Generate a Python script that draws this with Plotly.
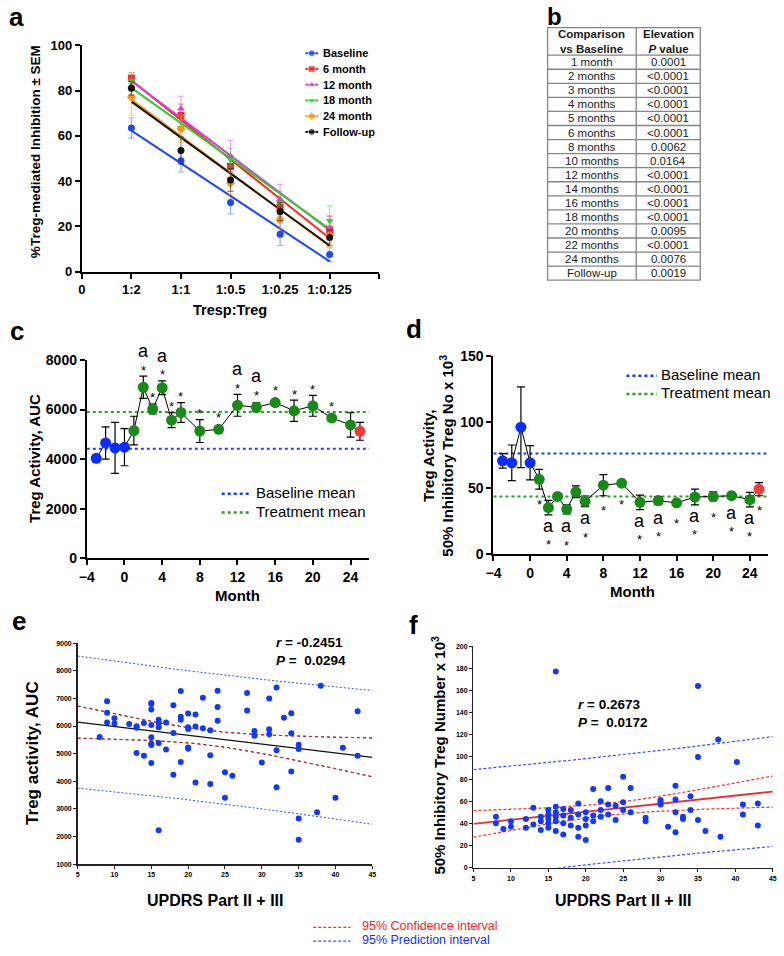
import numpy as np
import plotly.graph_objects as go

W, H = 784, 956
FONT = "Liberation Sans, Arial, sans-serif"


def fx(p):
    return p / W


def fy(p):
    return 1 - p / H


# ---------------- Panel a data ----------------
ratio_labels = ["1:2", "1:1", "1:0.5", "1:0.25", "1:0.125"]
ratio_pos = [1, 2, 3, 4, 5]
a_names = ["Baseline", "6 month", "12 month", "18 month", "24 month", "Follow-up"]
a_baseline = [63.5, 49.0, 30.5, 16.5, 7.5]
a_baseline_sem = [4.5, 5.0, 5.0, 5.0, 3.0]
a_m6 = [85.5, 69.0, 46.5, 28.5, 18.5]
a_m6_sem = [2.5, 5.0, 5.0, 4.0, 6.0]
a_m12 = [82.0, 72.0, 51.0, 32.0, 19.5]
a_m12_sem = [4.0, 5.5, 7.0, 6.5, 5.0]
a_m18 = [84.0, 63.5, 49.5, 30.5, 22.5]
a_m18_sem = [3.0, 5.0, 5.0, 5.0, 6.5]
a_m24 = [77.0, 63.0, 39.0, 23.0, 16.0]
a_m24_sem = [8.0, 6.0, 5.0, 4.0, 5.0]
a_fu = [81.0, 53.5, 40.5, 26.5, 15.0]
a_fu_sem = [3.0, 6.0, 5.0, 4.0, 3.5]

# ---------------- Panel b data ----------------
b_header = ["<b>Comparison<br>vs Baseline</b>", "<b>Elevation<br><i>P</i> value</b>"]
b_comparison = ["1 month", "2 months", "3 months", "4 months", "5 months", "6 months",
                "8 months", "10 months", "12 months", "14 months", "16 months",
                "18 months", "20 months", "22 months", "24 months", "Follow-up"]
b_pvalue = ["0.0001", "<0.0001", "<0.0001", "<0.0001", "<0.0001", "<0.0001",
            "0.0062", "0.0164", "<0.0001", "<0.0001", "<0.0001", "<0.0001",
            "0.0095", "<0.0001", "0.0076", "0.0019"]

# ---------------- Panel c / d data ----------------
months = [-3, -2, -1, 0, 1, 2, 3, 4, 5, 6, 8, 10, 12, 14, 16, 18, 20, 22, 24, 25]
phase = ["B"] * 4 + ["T"] * 15 + ["F"]
c_auc = [4030, 4650, 4450, 4480, 5150, 6900, 6020, 6880, 5570, 5880, 5130, 5200,
         6170, 6090, 6280, 5950, 6150, 5660, 5380, 5120]
c_sem = [130, 650, 1030, 750, 580, 450, 200, 280, 300, 400, 460, 40,
         440, 180, 60, 430, 420, 120, 490, 360]
c_star_months = [2, 3, 4, 5, 6, 8, 10, 12, 14, 16, 18, 20, 22]
c_a_months = [2, 4, 12, 14]
c_baseline_mean = 4420
c_treatment_mean = 5900

d_val = [70.5, 69.0, 96.0, 69.0, 56.5, 35.0, 43.5, 33.8, 47.0, 39.8, 52.0, 53.5,
         39.0, 40.3, 38.6, 43.0, 43.5, 44.0, 41.0, 49.0]
d_sem = [5.5, 13.5, 30.7, 13.0, 7.5, 5.5, 1.0, 3.5, 4.5, 4.0, 8.0, 1.2,
         5.5, 3.0, 1.0, 6.0, 3.5, 1.0, 5.5, 5.0]
d_star_months = [1, 2, 4, 6, 8, 10, 12, 14, 16, 18, 20, 22, 24, 25]
d_a_months = [2, 4, 6, 12, 14, 18, 22, 24]
d_baseline_mean = 76
d_treatment_mean = 43.5
mean_names = ["Baseline mean", "Treatment mean"]

# ---------------- Panel e data ----------------
e_updrs = [8, 9, 9, 9, 10, 10, 12, 13, 13, 13, 14, 14, 15, 15, 15, 15, 15, 15, 15, 15,
           16, 16, 16, 16, 16, 17, 17, 18, 18, 18, 19, 19, 19, 19, 20, 20, 20, 20, 20,
           21, 21, 21, 22, 22, 23, 23, 23, 24, 24, 24, 25, 25, 26, 28, 28, 29, 29, 30,
           31, 31, 31, 32, 32, 32, 33, 34, 34, 34, 35, 35, 35, 35, 37.5, 38, 40, 41, 43, 43]
e_auc = [5600, 6900, 6480, 6130, 6280, 6090, 6070, 5990, 5940, 5020, 4920, 6110,
         6830, 6800, 6600, 6040, 5590, 5360, 5310, 4660,
         6230, 6120, 5960, 5390, 2230, 6130, 5150, 6750, 5750, 4240,
         7270, 6340, 6230, 4700, 6450, 5960, 5890, 5220, 5180,
         6420, 5980, 3960, 7020, 5920, 5850, 4940, 3900, 7280, 6690, 6190,
         4330, 3400, 4200, 7200, 6560, 5820, 5650, 4680,
         7000, 5880, 5700, 7400, 5120, 3780, 6300, 6460, 5740, 4350,
         5320, 5170, 2650, 1880, 2880, 7460, 3400, 5210, 6540, 4920]

# ---------------- Panel f data ----------------
f_updrs = [8, 8, 9, 10, 10, 12, 12,
           13, 13, 14, 14, 14,
           15, 15, 15, 15, 15,
           16, 16, 16, 16, 16, 16,
           17, 17, 17, 17,
           18, 18, 18,
           19, 19, 19, 19,
           20, 20, 20, 20,
           21, 21, 21,
           22, 22, 22,
           23, 23, 23,
           24, 24,
           25, 25, 25,
           26, 26,
           28, 28,
           30, 30, 30,
           31,
           32, 32, 32, 32,
           33, 33,
           34, 34,
           35, 35, 35,
           36, 37.7, 38, 40.2,
           41, 41, 43, 43]
f_treg = [46, 40, 35, 42, 37, 44, 36,
          39, 54, 46, 42, 34,
          52, 48, 44, 40, 36,
          177, 55, 50, 46, 42, 33,
          53, 47, 40, 30,
          52, 45, 38,
          58, 48, 36, 28,
          50, 44, 38, 25,
          71, 47, 42,
          60, 52, 46,
          72, 57, 48,
          56, 43,
          82, 59, 52,
          72, 50,
          45, 42,
          61, 59.5, 57,
          37,
          74, 61.5, 50, 32,
          46, 44,
          64.5, 52,
          164, 100, 43,
          33, 115.7, 28, 95.5,
          57, 48, 58, 38]
band_names = ["95% Confidence interval", "95% Prediction interval"]

# ---------------- colours ----------------
a_colors = ["#1f45ff", "#ff2424", "#d23fd2", "#2ad12a", "#ff9412", "#111111"]
a_symbols = ["circle", "square", "triangle-up", "triangle-down", "diamond", "circle"]
PH_COL = {"B": "#0a2cff", "T": "#178a17", "F": "#f23a3a"}
MEAN_COL = ["#1a3cff", "#1ea61e"]
BAND_COL = ["#ff2a2a", "#3a4cff"]
BAND_TXT = ["#ff2020", "#1a2cff"]


def rgba(hexc, a):
    h = hexc.lstrip("#")
    return "rgba(%d,%d,%d,%.2f)" % (int(h[0:2], 16), int(h[2:4], 16), int(h[4:6], 16), a)


fig = go.Figure()
annotations = []


def pann(text, x, y, size, bold=False, angle=0, color="black", xanchor="center", align="center"):
    return dict(text=text, x=fx(x), y=fy(y), xref="paper", yref="paper", showarrow=False,
                textangle=angle, xanchor=xanchor, yanchor="middle", align=align,
                font=dict(family=FONT, size=size, color=color, weight=("bold" if bold else "normal")))


# ---------------- Panel a traces ----------------
a_vals = [a_baseline, a_m6, a_m12, a_m18, a_m24, a_fu]
a_sems = [a_baseline_sem, a_m6_sem, a_m12_sem, a_m18_sem, a_m24_sem, a_fu_sem]
for name, v, s, col, sym in zip(a_names, a_vals, a_sems, a_colors, a_symbols):
    slope, icpt = np.polyfit(ratio_pos, v, 1)
    xf = [ratio_pos[0], ratio_pos[-1]]
    yf = [icpt + slope * ratio_pos[0], icpt + slope * ratio_pos[-1]]
    fig.add_trace(go.Scatter(x=xf, y=yf, mode="lines", name=name,
                             line=dict(color=col, width=2),
                             xaxis="x", yaxis="y", showlegend=False))
for name, v, s, col, sym in zip(a_names, a_vals, a_sems, a_colors, a_symbols):
    fig.add_trace(go.Scatter(x=ratio_pos, y=v, mode="markers", name=name,
                             marker=dict(color=col, symbol=sym, size=7),
                             error_y=dict(type="data", array=s, color=rgba(col, 0.45),
                                          thickness=1.2, width=3),
                             xaxis="x", yaxis="y", showlegend=False))


# ---------------- Panel c / d traces ----------------
def timecourse(vals, sems, xa, ya, means):
    for mname, mval, mcol in zip(mean_names, means, MEAN_COL):
        fig.add_trace(go.Scatter(x=[-4, 26], y=[mval, mval], mode="lines", name=mname,
                                 line=dict(color=mcol, width=2, dash="dot"),
                                 xaxis=xa, yaxis=ya, showlegend=False))
    fig.add_trace(go.Scatter(x=months, y=vals, mode="lines",
                             line=dict(color="black", width=1),
                             error_y=dict(type="data", array=sems, color="black",
                                          thickness=1.2, width=4),
                             xaxis=xa, yaxis=ya, showlegend=False))
    for ph in ["B", "T", "F"]:
        idx = [i for i, p in enumerate(phase) if p == ph]
        fig.add_trace(go.Scatter(x=[months[i] for i in idx], y=[vals[i] for i in idx],
                                 mode="markers",
                                 marker=dict(color=PH_COL[ph], size=11),
                                 xaxis=xa, yaxis=ya, showlegend=False))


timecourse(c_auc, c_sem, "x2", "y2", [c_baseline_mean, c_treatment_mean])
timecourse(d_val, d_sem, "x3", "y3", [d_baseline_mean, d_treatment_mean])

# significance marks for c (above)
c_upp = 8000 / (559.5 - 358)
for i, m in enumerate(months):
    top = c_auc[i] + max(c_sem[i], 6 * c_upp)
    if m in c_star_months:
        annotations.append(dict(x=m, y=top, xref="x2", yref="y2", text="*", showarrow=False,
                                yshift=6, font=dict(size=13, family=FONT, color="black")))
    if m in c_a_months:
        annotations.append(dict(x=m, y=top, xref="x2", yref="y2", text="a", showarrow=False,
                                yshift=25, font=dict(size=18, family=FONT, color="black")))
# significance marks for d (below)
d_upp = 150 / (555 - 354)
for i, m in enumerate(months):
    bot = d_val[i] - max(d_sem[i], 6 * d_upp)
    has_a = m in d_a_months
    if has_a:
        annotations.append(dict(x=m, y=bot, xref="x3", yref="y3", text="a", showarrow=False,
                                yshift=-11, font=dict(size=18, family=FONT, color="black")))
    if m in d_star_months:
        annotations.append(dict(x=m, y=bot, xref="x3", yref="y3", text="*", showarrow=False,
                                yshift=(-30 if has_a else -15),
                                font=dict(size=13, family=FONT, color="black")))


# ---------------- Panel e / f regression ----------------
def regression(x, y, xs, t=1.99):
    x = np.asarray(x, float)
    y = np.asarray(y, float)
    n = len(x)
    b, a = np.polyfit(x, y, 1)
    s = np.sqrt(np.sum((y - (a + b * x)) ** 2) / (n - 2))
    xm = x.mean()
    sxx = np.sum((x - xm) ** 2)
    fit = a + b * xs
    ci = t * s * np.sqrt(1 / n + (xs - xm) ** 2 / sxx)
    pi = t * s * np.sqrt(1 + 1 / n + (xs - xm) ** 2 / sxx)
    return fit, ci, pi


xs = np.linspace(5, 45, 81)
fit_e, ci_e, pi_e = regression(e_updrs, e_auc, xs)
for yy in [fit_e + pi_e, fit_e - pi_e]:
    fig.add_trace(go.Scatter(x=xs, y=yy, mode="lines", line=dict(color="#3050ff", width=1, dash="2px,2px"),
                             xaxis="x4", yaxis="y4", showlegend=False))
for yy in [fit_e + ci_e, fit_e - ci_e]:
    fig.add_trace(go.Scatter(x=xs, y=yy, mode="lines", line=dict(color="#222222", width=1, dash="dot"),
                             xaxis="x4", yaxis="y4", showlegend=False))
    fig.add_trace(go.Scatter(x=xs, y=yy, mode="lines", line=dict(color="#e02020", width=1, dash="3px,3px"),
                             xaxis="x4", yaxis="y4", showlegend=False))
fig.add_trace(go.Scatter(x=xs, y=fit_e, mode="lines", line=dict(color="#111111", width=1.3),
                         xaxis="x4", yaxis="y4", showlegend=False))
fig.add_trace(go.Scatter(x=e_updrs, y=e_auc, mode="markers", marker=dict(color="#1238ff", size=6),
                         xaxis="x4", yaxis="y4", showlegend=False))

fit_f, ci_f, pi_f = regression(f_updrs, f_treg, xs)
for half, col in zip([ci_f, pi_f], BAND_COL):
    for yy in [fit_f + half, fit_f - half]:
        fig.add_trace(go.Scatter(x=xs, y=yy, mode="lines",
                                 line=dict(color=col, width=1.2, dash="3px,2px"),
                                 xaxis="x5", yaxis="y5", showlegend=False))
fig.add_trace(go.Scatter(x=xs, y=fit_f, mode="lines", line=dict(color="#e83030", width=1.8),
                         xaxis="x5", yaxis="y5", showlegend=False))
fig.add_trace(go.Scatter(x=f_updrs, y=f_treg, mode="markers", marker=dict(color="#1238ff", size=6),
                         xaxis="x5", yaxis="y5", showlegend=False))

# ---------------- legends (drawn on a page-pixel overlay axis) ----------------
def key_line(x0, x1, y, col, width, dash, sym=None):
    if sym is None:
        fig.add_trace(go.Scatter(x=[x0, x1], y=[y, y], mode="lines",
                                 line=dict(color=col, width=width, dash=dash),
                                 xaxis="x6", yaxis="y6", showlegend=False, hoverinfo="skip"))
    else:
        fig.add_trace(go.Scatter(x=[x0, (x0 + x1) / 2, x1], y=[y, y, y], mode="lines+markers",
                                 line=dict(color=col, width=width, dash=dash),
                                 marker=dict(color=col, symbol=sym, size=[0, 7, 0]),
                                 xaxis="x6", yaxis="y6", showlegend=False, hoverinfo="skip"))


for i, (name, col, sym) in enumerate(zip(a_names, a_colors, a_symbols)):
    yy = 46 + 16 * i
    key_line(302, 315, yy, col, 2, "solid", sym)
    annotations.append(pann(name, 318, yy, 11, True, xanchor="left"))
for i, (name, col) in enumerate(zip(mean_names, MEAN_COL)):
    key_line(217, 247, 494 + 19 * i, col, 2.5, "dot")
    annotations.append(pann(name, 250, 493 + 19 * i, 15, xanchor="left"))
    key_line(628, 659, 374 + 18.5 * i, col, 2.5, "dot")
    annotations.append(pann(name, 661, 373 + 18.5 * i, 15, xanchor="left"))
for i, (name, col, tcol) in enumerate(zip(band_names, BAND_COL, BAND_TXT)):
    key_line(310, 348, 935 + 14 * i, col, 1.2, "3px,2px")
    annotations.append(pann(name, 357, 934 + 14 * i, 12.5, color=tcol, xanchor="left"))

# ---------------- Panel b table (grid + text) ----------------
T_L, T_M, T_R, T_TOP = 548, 638, 703, 20
HEAD_H, ROW_H = 28, 14.3
n_rows = len(b_comparison)
T_BOT = T_TOP + HEAD_H + ROW_H * n_rows
shapes = []
gridline = dict(color="#858585", width=1.3)
shapes.append(dict(type="rect", xref="paper", yref="paper", x0=fx(T_L), x1=fx(T_R),
                   y0=fy(T_BOT), y1=fy(T_TOP), line=gridline, fillcolor="rgba(0,0,0,0)"))
shapes.append(dict(type="line", xref="paper", yref="paper", x0=fx(T_M), x1=fx(T_M),
                   y0=fy(T_BOT), y1=fy(T_TOP), line=gridline))
for k in range(n_rows):
    yline = T_TOP + HEAD_H + ROW_H * k
    shapes.append(dict(type="line", xref="paper", yref="paper", x0=fx(T_L), x1=fx(T_R),
                       y0=fy(yline), y1=fy(yline), line=gridline))

col_c = [(T_L + T_M) / 2, (T_M + T_R) / 2]
for j, htxt in enumerate(b_header):
    annotations.append(pann(htxt, col_c[j], T_TOP + HEAD_H / 2, 11.5, color="#1a1a1a"))
for k in range(n_rows):
    yc = T_TOP + HEAD_H + ROW_H * (k + 0.5)
    annotations.append(pann(b_comparison[k], col_c[0], yc, 11.5, color="#1a1a1a"))
    annotations.append(pann(b_pvalue[k], col_c[1], yc, 11.5, color="#1a1a1a"))


# ---------------- axes ----------------
def big_axis(dom, rng, **kw):
    d = dict(domain=dom, range=rng, showline=True, linecolor="black", linewidth=2,
             ticks="outside", ticklen=5, tickwidth=2, tickcolor="black", showgrid=False,
             zeroline=False, tickfont=dict(family=FONT, size=13, color="black", weight="bold"))
    d.update(kw)
    return d


def small_axis(dom, rng, **kw):
    d = dict(domain=dom, range=rng, showline=True, linecolor="#222222", linewidth=1.5,
             ticks="outside", ticklen=3, tickwidth=1, tickcolor="#222222", showgrid=False,
             zeroline=False, tickfont=dict(family=FONT, size=7, color="black", weight="bold"))
    d.update(kw)
    return d


big14 = dict(family=FONT, size=14, color="black", weight="bold")
layout_axes = dict(
    xaxis=big_axis([fx(75), fx(377)], [0, 6], anchor="y", tickmode="array",
                   tickvals=[0] + ratio_pos + [6], ticktext=["0"] + ratio_labels + [" "]),
    yaxis=big_axis([fy(268), fy(38)], [0, 100], anchor="x", dtick=20),
    xaxis2=big_axis([fx(80), fx(367)], [-4, 26], anchor="y2", dtick=4, tick0=-4, tickfont=big14),
    yaxis2=big_axis([fy(559.5), fy(358)], [0, 8000], anchor="x2", dtick=2000, tickfont=big14),
    xaxis3=big_axis([fx(493), fx(772)], [-4, 26], anchor="y3", dtick=4, tick0=-4, tickfont=big14),
    yaxis3=big_axis([fy(555), fy(354)], [0, 150], anchor="x3", dtick=50, tickfont=big14),
    xaxis4=small_axis([fx(70.7), fx(370)], [5, 45], anchor="y4", dtick=5),
    yaxis4=small_axis([fy(870.7), fy(646)], [1000, 9000], anchor="x4", dtick=1000),
    xaxis5=small_axis([fx(472.7), fx(776.7)], [5, 45], anchor="y5", dtick=5),
    yaxis5=small_axis([fy(874.3), fy(649)], [0, 200], anchor="x5", dtick=20),
    xaxis6=dict(domain=[0, 1], range=[0, W], visible=False, anchor="y6", fixedrange=True),
    yaxis6=dict(domain=[0, 1], range=[H, 0], visible=False, anchor="x6", fixedrange=True),
)

annotations += [
    pann("a", 9, 9, 26, True),
    pann("b", 555, 9, 24, True),
    pann("c", 9, 328, 26, True),
    pann("d", 412, 326, 26, True),
    pann("e", 11, 623, 26, True),
    pann("f", 412, 628, 26, True),
    pann("%Treg-mediated Inhibition ± SEM", 28, 146, 13.5, True, -90),
    pann("Tresp:Treg", 225, 307, 14.5, True),
    pann("Treg Activity, AUC", 27, 458, 15, True, -90),
    pann("Month", 233, 598, 15, True),
    pann("Treg Activity,<br>50% Inhibitory Treg No x 10<sup>3</sup>", 437, 455, 15, True, -90),
    pann("Month", 634, 593, 15, True),
    pann("Treg activity, AUC", 25, 758, 17, True, -90),
    pann("UPDRS Part II + III", 210, 908, 16, True),
    pann("50% Inhibitory Treg Number x 10<sup>3</sup>", 437, 760, 15, True, -90),
    pann("UPDRS Part II + III", 625, 908, 16, True),
    pann("<i>r</i> = -0.2451<br><i>P</i> =  0.0294", 270, 654, 13.5, True, xanchor="left", align="left"),
    pann("<i>r</i> = 0.2673<br><i>P</i> =  0.0172", 577, 718, 13.5, True, xanchor="left", align="left"),
]

fig.update_layout(
    width=W, height=H, margin=dict(l=0, r=0, t=0, b=0),
    paper_bgcolor="white", plot_bgcolor="rgba(0,0,0,0)",
    font=dict(family=FONT, color="black"),
    annotations=annotations,
    shapes=shapes,
    showlegend=False,
    **layout_axes,
)

fig.write_html("out.html", config={"displayModeBar": False, "staticPlot": True},
               post_script="document.body.style.margin='0px';document.body.style.overflow='hidden';")
